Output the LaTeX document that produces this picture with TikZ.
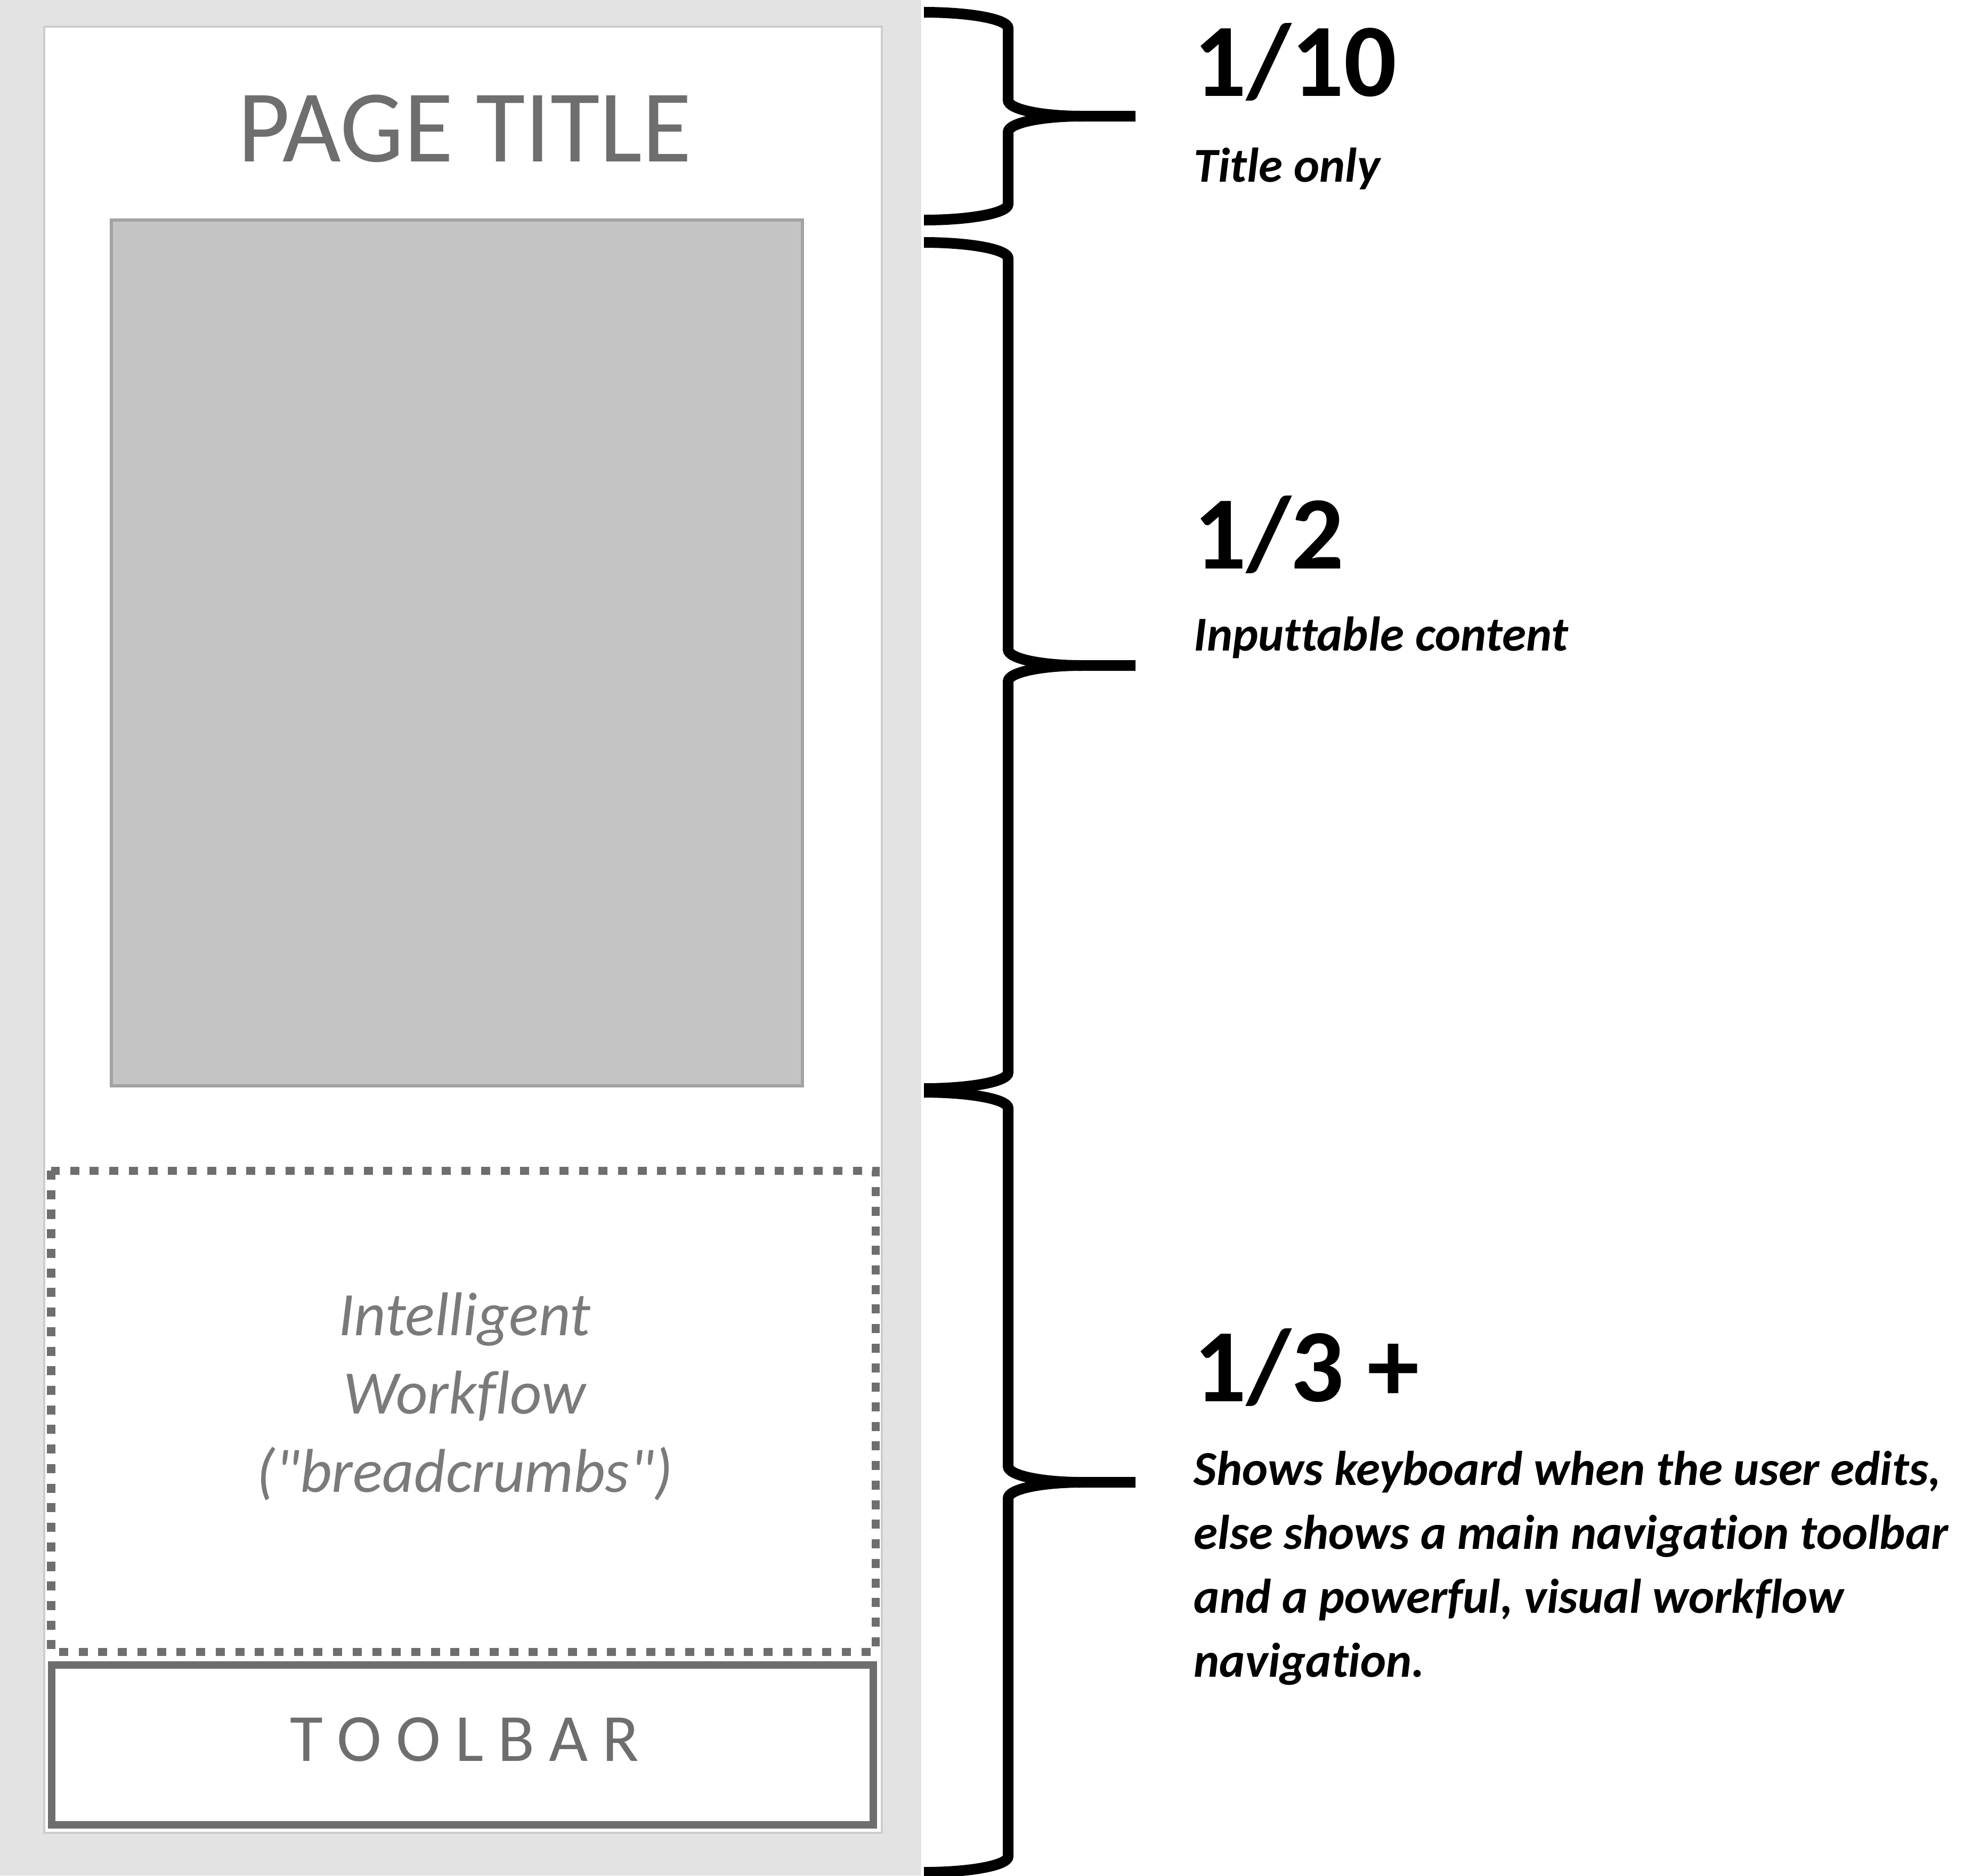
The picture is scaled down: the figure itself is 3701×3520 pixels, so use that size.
\documentclass[tikz,border=0pt]{standalone}
\usepackage{fontspec}
\setmainfont{Carlito}[Ligatures={TeX,CommonOff,ContextualOff,RareOff}]
\newfontfamily\plainquotes{Carlito}[Ligatures={TeXOff,CommonOff,ContextualOff,RareOff}]
\usepackage{graphicx}

\definecolor{panelgray}{HTML}{E3E3E3}
\definecolor{framegray}{HTML}{CDCDCD}
\definecolor{blockfill}{HTML}{C4C4C4}
\definecolor{blockedge}{HTML}{A2A2A2}
\definecolor{inkgray}{HTML}{6E6E6E}
\definecolor{softgray}{HTML}{7A7A7A}

% curly bracket on the right of the mock-up: top y, bottom y, name of its tip
\newcommand\sidebrace[3]{%
  \pgfmathsetmacro\bym{(#1+#2)/2}
  \coordinate (#3) at (2131,\bym);
  \draw[bracepen] (1734,#1) .. controls (1821,#1) and (1892,#1+13) .. (1892,#1+30)
     -- (1892,\bym-30) .. controls (1892,\bym-13) and (1954,\bym) .. (2030,\bym) -- (#3);
  \draw[bracepen] (2030,\bym) .. controls (1954,\bym) and (1892,\bym+13) .. (1892,\bym+30)
     -- (1892,#2-30) .. controls (1892,#2-13) and (1821,#2) .. (1734,#2);
}

\begin{document}
\begin{tikzpicture}[x=0.01cm,y=-0.01cm,
  bracepen/.style={line width=0.2cm,black},
  bignum/.style={anchor=base west,inner sep=0pt,
    font=\bfseries\fontsize{55.5pt}{66pt}\selectfont},
  note/.style={anchor=base west,inner sep=0pt,align=left,
    font=\bfseries\itshape\fontsize{26pt}{34.1pt}\selectfont},
  mocktitle/.style={anchor=base,inner sep=0pt,text=inkgray,
    font=\fontsize{55pt}{66pt}\selectfont},
  mockitalic/.style={anchor=base,inner sep=0pt,align=center,text=softgray,
    font=\plainquotes\itshape\fontsize{33pt}{41.8pt}\selectfont},
  mockbar/.style={anchor=base,inner sep=0pt,text=inkgray,
    font=\fontsize{36pt}{43pt}\selectfont},
]
\useasboundingbox (0,0) rectangle (3701,3520);
\fill[white] (0,0) rectangle (3701,3520);

% device mock-up
\fill[panelgray] (0,0) rectangle (1729,3520);
\filldraw[fill=white,draw=framegray,line width=0.04cm] (83,50) rectangle (1655,3440);
\filldraw[fill=blockfill,draw=blockedge,line width=0.06cm] (209,413) rectangle (1506,2038);
\draw[inkgray,line width=0.15cm,dash pattern=on 0.17cm off 0.197cm] (96,2197) rectangle (1643,3100);
\draw[inkgray,line width=0.14cm] (97,3125) rectangle (1639,3425);

\node[mocktitle] (pagetitle) at (872,303) {\scalebox{0.98}[1]{PAGE TITLE}};
% multi-line nodes sit on the baseline of their last line
\node[mockitalic] (workflow) at (872,2800) {Intelligent\\Workflow\\("breadcrumbs")};
\node[mockbar] (toolbar) at (872,3305)
  {T\hspace{0.27cm}O\hspace{0.27cm}O\hspace{0.27cm}L\hspace{0.27cm}B\hspace{0.27cm}A\hspace{0.27cm}R};

% brackets with their shares of the screen
\sidebrace{23}{413}{tipA}
\sidebrace{455}{2043}{tipB}
\sidebrace{2050}{3514}{tipC}

\node[bignum] (shareA) at (2240,180) {1/10};
\node[note] (noteA) at (2240,341) {Title only};
\node[bignum] (shareB) at (2240,1067) {1/2};
\node[note] (noteB) at (2240,1221) {Inputtable content};
\node[bignum] (shareC) at (2240,2630) {1/3 +};
\node[note] (noteC) at (2240,3147) {Shows keyboard when the user edits,\\else shows a main navigation toolbar\\and a powerful, visual workflow\\navigation.};
\end{tikzpicture}
\end{document}
